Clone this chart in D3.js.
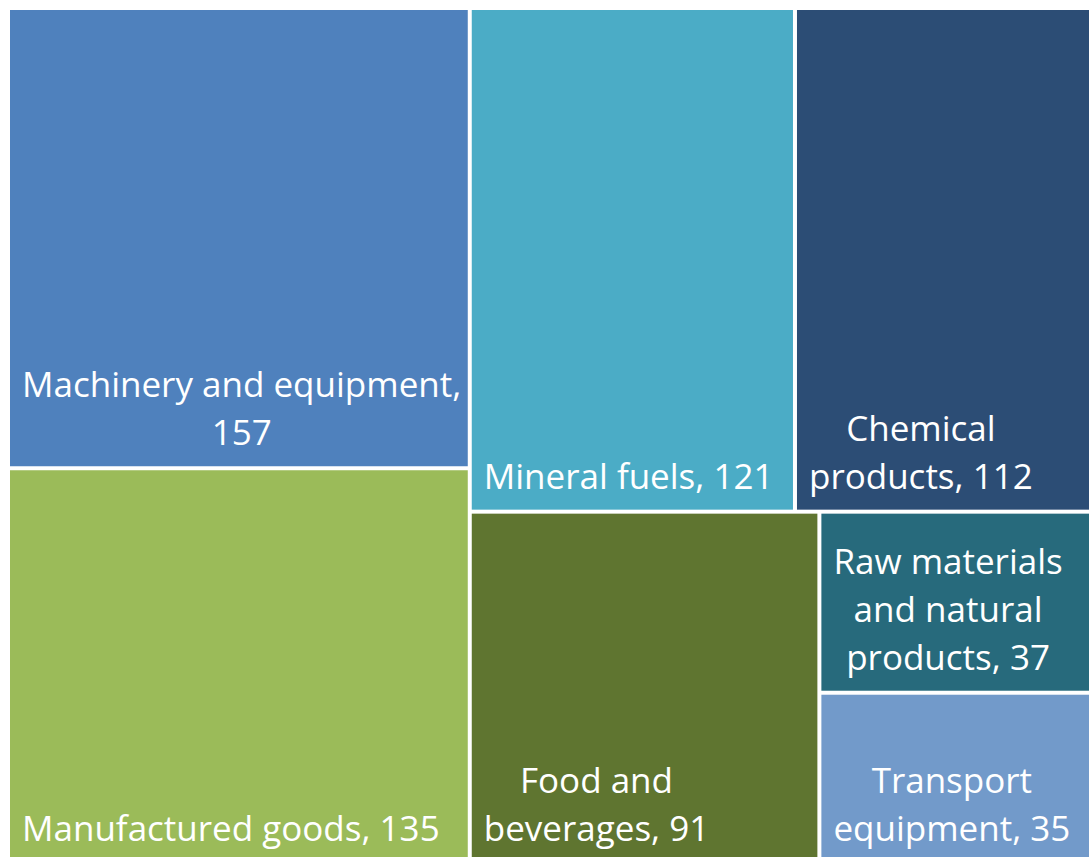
<!DOCTYPE html>
<html>
<head>
<meta charset="utf-8">
<script src="https://cdn.jsdelivr.net/npm/d3@7"></script>
<style>
  body { margin: 0; background: #fff; }
  svg { display: block; overflow: hidden; }
</style>
</head>
<body>
<script>
// data
const categories = ["Machinery and equipment", "Manufactured goods", "Mineral fuels", "Chemical products",
  "Food and beverages", "Raw materials and natural products", "Transport equipment"];
const values = [157, 135, 121, 112, 91, 37, 35];
const colors = ["#4F81BD", "#9BBB59", "#4BACC6", "#2C4D75", "#5F7530", "#276A7C", "#729ACA"];
// nesting of the blocks (path of groups for each category)
const groups = ["left", "left", "right/top", "right/top", "right/bottom", "right/bottom/small", "right/bottom/small"];

const width = 1089, height = 857;
const margin = {left: 10, top: 10};

// build the nested tree
function buildTree() {
  const root = {name: "root", children: []};
  categories.forEach((c, i) => {
    let node = root;
    groups[i].split("/").forEach(g => {
      let next = node.children.find(ch => ch.name === g);
      if (!next) { next = {name: g, children: []}; node.children.push(next); }
      node = next;
    });
    node.children.push({name: c, value: values[i], color: colors[i]});
  });
  return root;
}

const root = d3.hierarchy(buildTree()).sum(d => d.value || 0);

d3.treemap()
  .tile(d3.treemapSliceDice)
  .size([1084, 852]) // the plot runs a little past the window on the right and bottom
  .paddingInner(4)(root);

const svg = d3.select("body")
  .append("svg")
  .attr("width", width)
  .attr("height", height);

const g = svg.append("g")
  .attr("transform", `translate(${margin.left},${margin.top})`);

const cell = g.selectAll(".cell")
  .data(root.leaves())
  .enter().append("g")
  .attr("class", "cell");

cell.append("rect")
  .attr("x", d => d.x0)
  .attr("y", d => d.y0)
  .attr("width", d => d.x1 - d.x0)
  .attr("height", d => d.y1 - d.y0)
  .attr("fill", d => d.data.color);

const fontSize = 35, lineHeight = 48;

cell.each(function (d) {
  const sel = d3.select(this);
  const text = sel.append("text")
    .attr("fill", "#fff")
    .attr("font-family", "'Open Sans', sans-serif")
    .attr("font-size", fontSize)
    .attr("text-anchor", "middle");

  // greedy wrap
  const words = (d.data.name + ", " + d.data.value).split(" ");
  const maxW = d.x1 - d.x0 - 12;
  const probe = sel.append("text")
    .attr("font-family", "'Open Sans', sans-serif")
    .attr("font-size", fontSize);
  const measure = s => { probe.text(s); return probe.node().getComputedTextLength(); };
  const lines = [];
  let cur = "";
  words.forEach(w => {
    const test = cur ? cur + " " + w : w;
    if (cur && measure(test) > maxW) { lines.push(cur); cur = w; }
    else cur = test;
  });
  lines.push(cur);
  const blockW = d3.max(lines, measure);
  probe.remove();

  const cx = d.x0 + 12 + blockW / 2;
  const lastY = d.y1 - 21;
  lines.forEach((l, i) => {
    text.append("tspan")
      .attr("x", cx)
      .attr("y", lastY - (lines.length - 1 - i) * lineHeight)
      .text(l);
  });
});
</script>
</body>
</html>
